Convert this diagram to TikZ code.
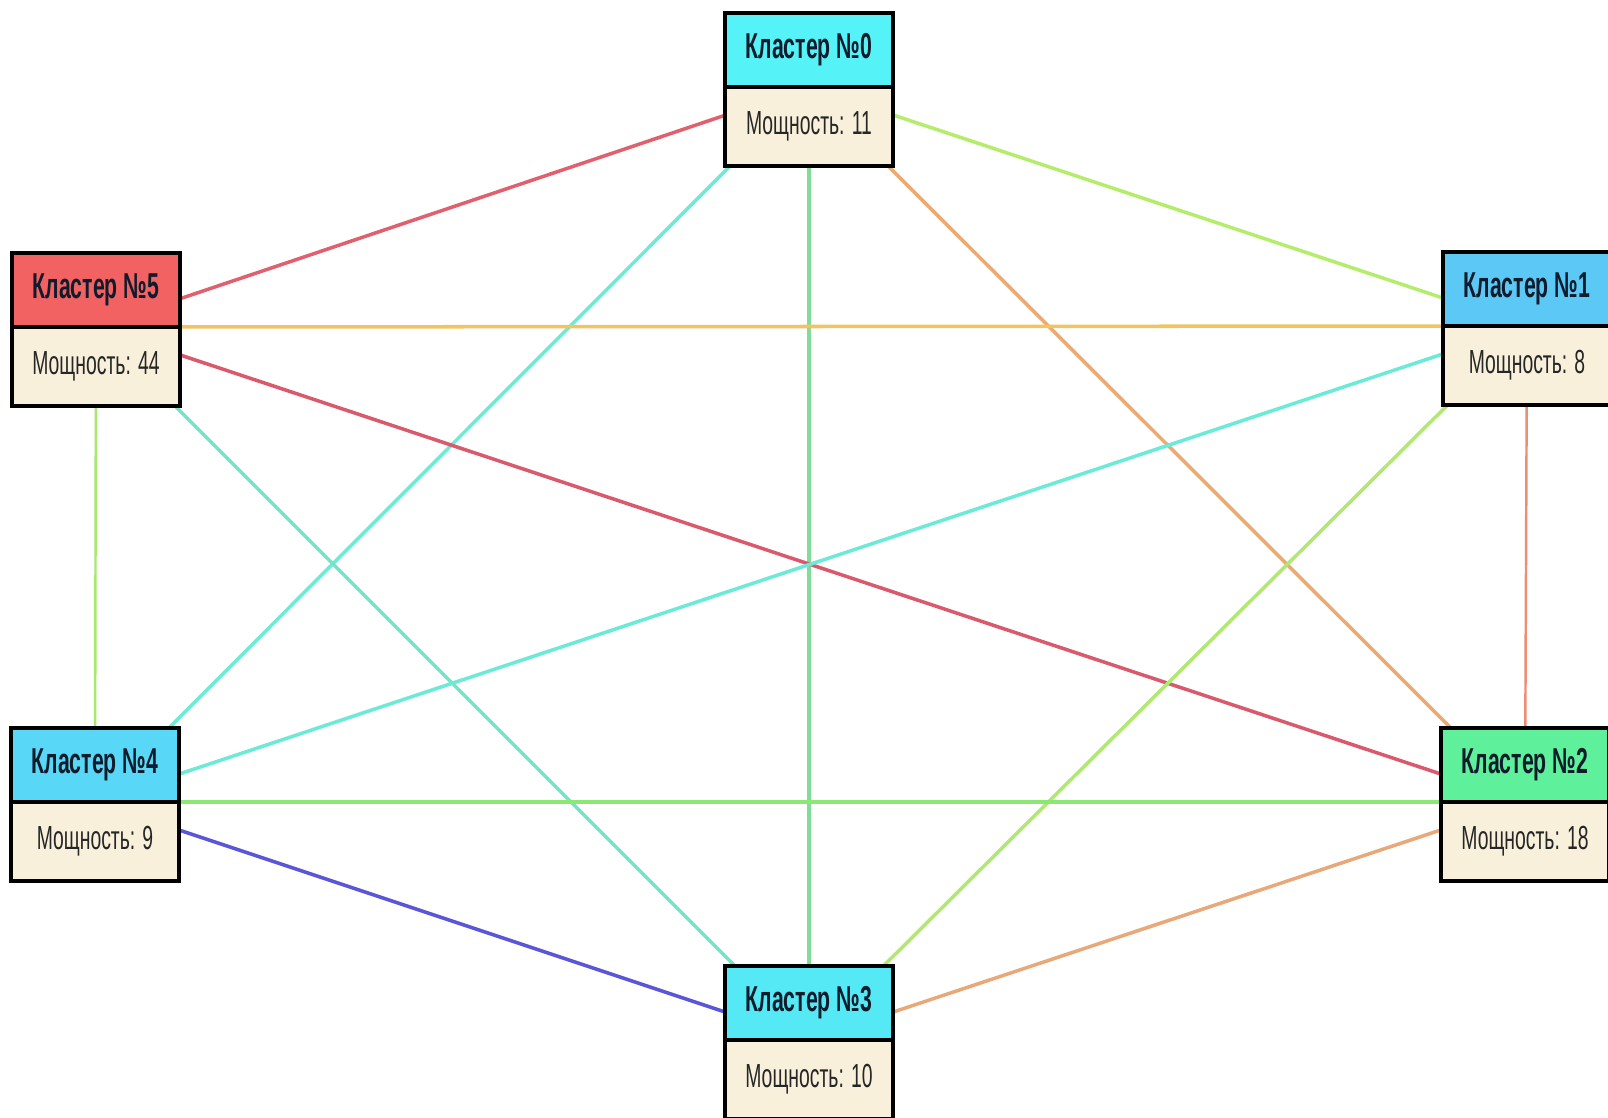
\documentclass[tikz,border=0pt]{standalone}
\usepackage{fontspec}
\setmainfont{Liberation Sans}
\newfontfamily\headfont[FakeStretch=0.59]{Liberation Sans}
\newfontfamily\bodyfont[FakeStretch=0.58]{Liberation Sans}
\usetikzlibrary{positioning,backgrounds}

\definecolor{cl0}{HTML}{55F2F8}
\definecolor{cl1}{HTML}{5CC8F5}
\definecolor{cl2}{HTML}{5EF09A}
\definecolor{cl3}{HTML}{55E9F6}
\definecolor{cl4}{HTML}{58D8F6}
\definecolor{cl5}{HTML}{F26262}
\definecolor{bodyfill}{HTML}{F8F0DA}
\definecolor{headtext}{HTML}{101C2C}

\tikzset{
  head/.style = {rectangle, draw=black, line width=2.2pt, inner sep=0pt,
    outer sep=0pt, minimum width=3.36cm, minimum height=1.48cm,
    text=headtext, font=\headfont\bfseries\fontsize{20.5}{20.5}\selectfont},
  body/.style = {rectangle, draw=black, line width=2.2pt, inner sep=0pt,
    outer sep=0pt, fill=bodyfill, minimum width=3.36cm, minimum height=1.58cm,
    text=black!85, font=\bodyfont\fontsize{19}{19}\selectfont},
  edge/.style = {line width=2pt},
  thinedge/.style = {line width=1.4pt}
}

\begin{document}
\begin{tikzpicture}[x=0.02cm,y=-0.02cm]
\useasboundingbox (0,0) rectangle (1608,1118);

% clusters
\node[head, fill=cl0, anchor=south] (c0) at (809,87) {Кластер №0};
\node[body, below=0pt of c0] (m0) {Мощность: 11};
\node[head, fill=cl1, anchor=south] (c1) at (1527,326) {Кластер №1};
\node[body, below=0pt of c1] (m1) {Мощность: 8};
\node[head, fill=cl2, anchor=south] (c2) at (1525,802) {Кластер №2};
\node[body, below=0pt of c2] (m2) {Мощность: 18};
\node[head, fill=cl3, anchor=south] (c3) at (809,1040) {Кластер №3};
\node[body, below=0pt of c3] (m3) {Мощность: 10};
\node[head, fill=cl4, anchor=south] (c4) at (95,802) {Кластер №4};
\node[body, below=0pt of c4] (m4) {Мощность: 9};
\node[head, fill=cl5, anchor=south] (c5) at (96,327) {Кластер №5};
\node[body, below=0pt of c5] (m5) {Мощность: 44};

% links, behind the boxes
\begin{pgfonlayer}{background}
\draw[edge, color={rgb,255:red,224;green,96;blue,110}] (c0.south) -- (c5.south);
\draw[edge, color={rgb,255:red,182;green,236;blue,108}] (c0.south) -- (c1.south);
\draw[edge, color={rgb,255:red,110;green,234;blue,214}] (c0.south) -- (c4.south);
\draw[edge, color={rgb,255:red,128;green,220;blue,150}] (c0.south) -- (c3.south);
\draw[edge, color={rgb,255:red,235;green,170;blue,112}] (c0.south) -- (c2.south);
\draw[edge, color={rgb,255:red,240;green,196;blue,98}] (c5.south) -- (c1.south);
\draw[edge, color={rgb,255:red,216;green,90;blue,108}] (c5.south) -- (c2.south);
\draw[thinedge, color={rgb,255:red,168;green,232;blue,108}] (c5.south) -- (c4.south);
\draw[edge, color={rgb,255:red,114;green,230;blue,196}] (c5.south) -- (c3.south);
\draw[edge, color={rgb,255:red,108;green,234;blue,216}] (c1.south) -- (c4.south);
\draw[edge, color={rgb,255:red,176;green,232;blue,114}] (c1.south) -- (c3.south);
\draw[thinedge, color={rgb,255:red,238;green,140;blue,116}] (c1.south) -- (c2.south);
\draw[edge, color={rgb,255:red,140;green,232;blue,116}] (c4.south) -- (c2.south);
\draw[edge, color={rgb,255:red,90;green,86;blue,214}] (c4.south) -- (c3.south);
\draw[edge, color={rgb,255:red,232;green,168;blue,122}] (c2.south) -- (c3.south);
\end{pgfonlayer}
\end{tikzpicture}
\end{document}
